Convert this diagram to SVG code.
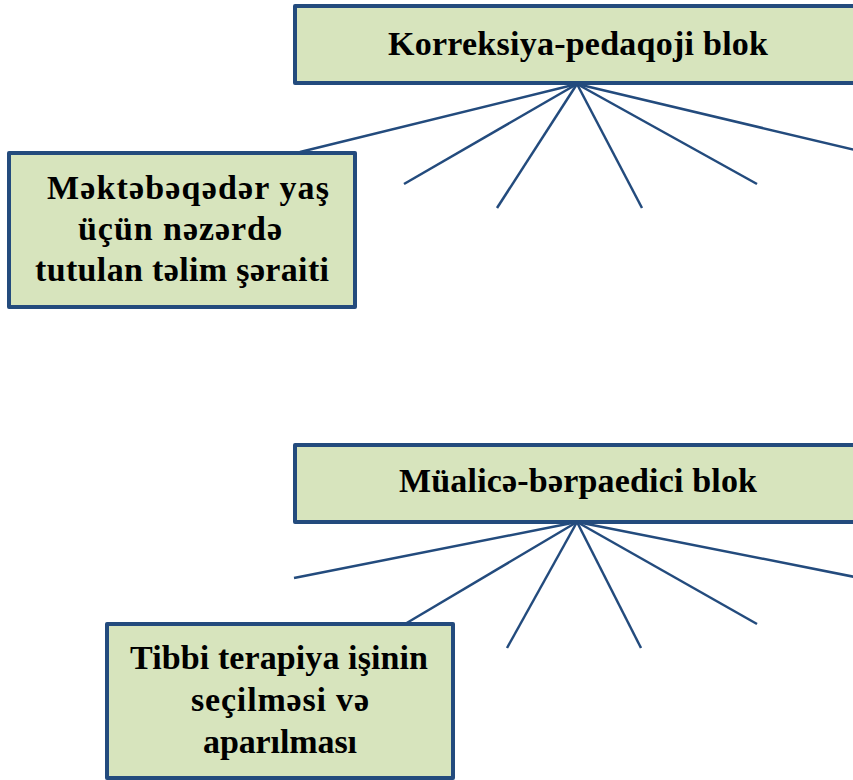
<svg xmlns="http://www.w3.org/2000/svg" width="853" height="780" viewBox="0 0 853 780">
<style>
.box{fill:#D7E4BD;stroke:#234B7D;stroke-width:4;stroke-linejoin:round}
.t{font-family:"Liberation Serif","DejaVu Serif",serif;font-weight:bold;font-size:34px;fill:#000;text-anchor:middle}
.c line{stroke:#234B7D;stroke-width:2.5;stroke-linecap:butt}
</style>
<rect width="853" height="780" fill="#fff"/>
<g class="c" id="connectors">
<line x1="577" y1="84" x2="300" y2="152"/>
<line x1="577" y1="84" x2="404" y2="184"/>
<line x1="577" y1="84" x2="497" y2="208"/>
<line x1="577" y1="84" x2="642" y2="208"/>
<line x1="577" y1="84" x2="757" y2="184"/>
<line x1="577" y1="84" x2="855" y2="150"/>
<line x1="577" y1="522" x2="294" y2="578"/>
<line x1="577" y1="522" x2="405" y2="624"/>
<line x1="577" y1="522" x2="507" y2="648"/>
<line x1="577" y1="522" x2="641" y2="648"/>
<line x1="577" y1="522" x2="757" y2="624"/>
<line x1="577" y1="522" x2="855" y2="577"/>
</g>
<g id="korreksiya">
<rect class="box" x="295" y="6" width="570" height="77"/>
<text class="t" x="578" y="55" textLength="380">Korreksiya-pedaqoji blok</text>
</g>
<g id="mektebeqeder">
<rect class="box" x="9" y="153" width="346" height="154"/>
<text class="t" x="188" y="199" textLength="282">Məktəbəqədər yaş</text>
<text class="t" x="180" y="240" textLength="204">üçün nəzərdə</text>
<text class="t" x="182" y="281" textLength="294">tutulan təlim şəraiti</text>
</g>
<g id="mualice">
<rect class="box" x="295" y="445" width="570" height="77"/>
<text class="t" x="578" y="492" textLength="358">Müalicə-bərpaedici blok</text>
</g>
<g id="tibbi">
<rect class="box" x="107" y="624" width="346" height="154"/>
<text class="t" x="279" y="669" textLength="298">Tibbi terapiya işinin</text>
<text class="t" x="280" y="711" textLength="178">seçilməsi və</text>
<text class="t" x="280" y="753" textLength="154">aparılması</text>
</g>
</svg>
